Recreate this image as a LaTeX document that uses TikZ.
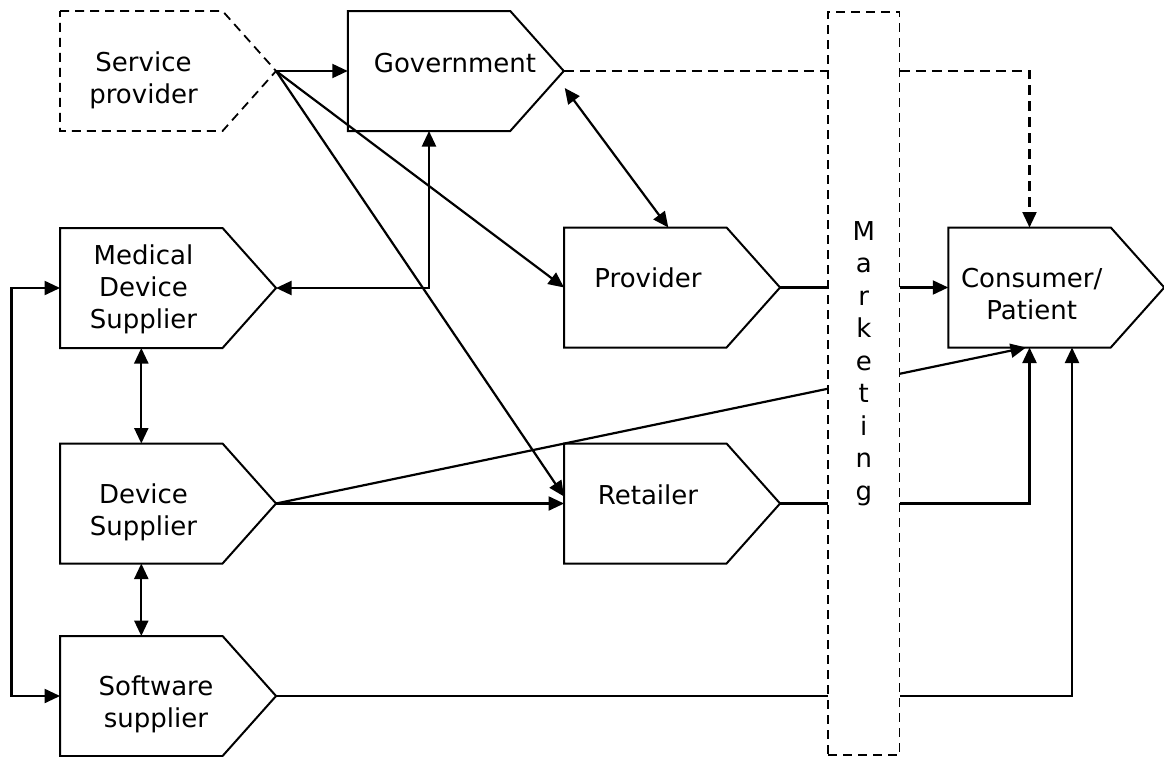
\documentclass[tikz,border=0pt]{standalone}
\usepackage{fontspec}
\setmainfont{DejaVu Sans}
\usetikzlibrary{arrows.meta}

% Pentagon "tag" box: a rectangular body node plus a pointed right end.
\newcommand\drawtag[3][]{%
  \node[tagbody] (#2) at (#3) {};
  \draw[tagline,#1] (#2.north west) -- (#2.north east)
    -- ([xshift=53.5pt]#2.east) coordinate (#2-tip)
    -- (#2.south east) -- (#2.south west) -- cycle;
}

\tikzset{
  tagbody/.style={rectangle, minimum width=162.5pt, minimum height=120pt,
    inner sep=0pt, outer sep=0pt},
  tagline/.style={line width=2pt, line join=miter},
  dashedline/.style={line width=1.8pt, dash pattern=on 9pt off 6pt},
  % the base anchor of a multi-line label sits on its last line
  label/.style={anchor=base, inner sep=0pt, align=center,
    font=\fontsize{26}{32}\selectfont},
  conn/.style={line width=2.2pt, -{Triangle[length=15.5pt,width=14pt]}},
  twoway/.style={line width=2.2pt,
    {Triangle[length=15.5pt,width=14pt]}-{Triangle[length=15.5pt,width=14pt]}},
  govlink/.style={line width=2.2pt, dash pattern=on 10pt off 6pt,
    -{Triangle[length=15.5pt,width=14pt]}},
  mktbox/.style={rectangle, minimum width=71.6pt, minimum height=743.3pt,
    inner sep=0pt, draw, fill=white, line width=1.7pt,
    dash pattern=on 9pt off 6pt}
}

\begin{document}
\begin{tikzpicture}[x=1pt, y=-1pt]
\useasboundingbox (0,0) rectangle (1164,756);

% boxes
\drawtag[dashedline]{sp}{141.3,71}
\drawtag{gov}{429,71}
\drawtag{med}{141.3,288}
\drawtag{dev}{141.3,503.5}
\drawtag{sw}{141.3,696}
\drawtag{prov}{645.3,287.5}
\drawtag{ret}{645.3,503.5}
\drawtag{cons}{1029.5,287.5}

% box labels
\node[label] (sp-text)   at (143.5,103.5) {Service\\provider};
\node[label] (gov-text)  at (455,72)      {Government};
\node[label] (med-text)  at (143.5,328.5) {Medical\\Device\\Supplier};
\node[label] (dev-text)  at (143.5,535.5) {Device\\Supplier};
\node[label] (sw-text)   at (156,727.5)   {Software\\supplier};
\node[label] (prov-text) at (648,287)     {Provider};
\node[label] (ret-text)  at (648,504)     {Retailer};
\node[label] (cons-text) at (1031.7,319.3) {Consumer/\\Patient};

% connectors
\draw[conn] (sp-tip) -- (gov.west);
\draw[conn] (sp-tip) -- (prov.west);
\draw[conn] (sp-tip) -- ([yshift=7pt]ret.west);
\draw[twoway] (gov.south) |- (med-tip);
\draw[twoway] ([shift={(1,17)}]gov-tip) -- ([xshift=23pt]prov.north);
\draw[govlink] (gov-tip) -| (cons.north);
\draw[conn] (prov-tip) -- (cons.west);
\draw[conn] (dev-tip) -- (ret.west);
\draw[conn] (dev-tip) -- ([xshift=-3.5pt]cons.south);
\draw[conn] (ret-tip) -| (cons.south);
\draw[conn] (sw-tip) -| ([xshift=42.5pt]cons.south);
\draw[twoway] (med.south) -- (dev.north);
\draw[twoway] (dev.south) -- (sw.north);
\draw[twoway] (med.west) -- ++(-48.5,0) |- (sw.west);

% marketing band over the flows
\node[mktbox] (mkt) at (863.8,383.3) {};
\node[label, font=\fontsize{26}{32.5}\selectfont] (mkt-text) at (863.8,500)
  {M\\a\\r\\k\\e\\t\\i\\n\\g};
\end{tikzpicture}
\end{document}
